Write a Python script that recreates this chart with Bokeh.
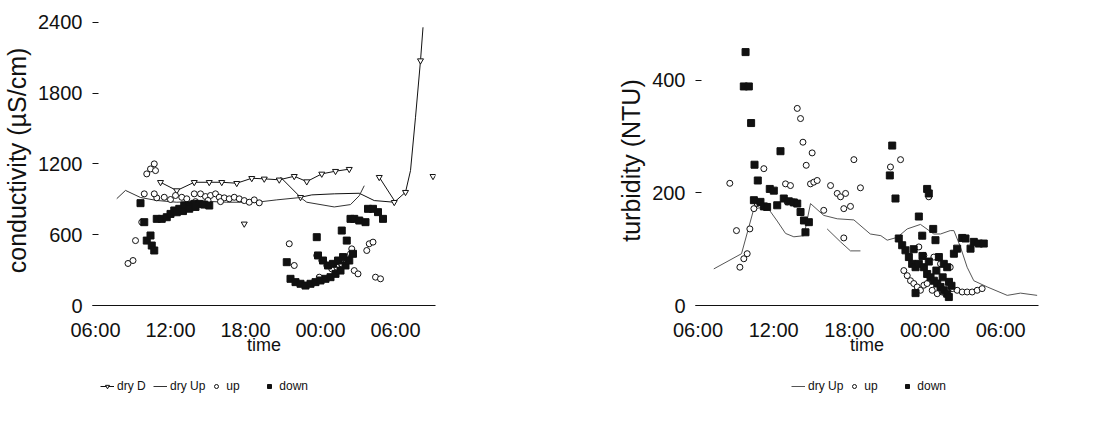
import math
from bokeh.plotting import figure
from bokeh.models import Range1d, FixedTicker, Legend, LegendItem
from bokeh.layouts import row, column
from bokeh.embed import file_html
from bokeh.resources import INLINE

NaN = float("nan")

# ---- time axis (hours after 06:00) ----
time_ticks = [0, 6, 12, 18, 24]
time_labels = ["06:00", "12:00", "18:00", "00:00", "06:00"]

# ---- conductivity panel ----
cond_ticks = [0, 600, 1200, 1800, 2400]

cond_dry_d_time = [5.2, 6.5, 7.9, 9.1, 10.1, 11.3, 12.5, 13.5, 14.7, 15.9, 16.9, 18.1, 19.2, 20.3, NaN,
                   14.8, 16.4, 17.3, 19.1, 21.1, 22.3, 23.9, 24.8, 25.2, 25.6, 26.0, 26.2, NaN,
                   22.7, 23.9]
cond_dry_d = [1044, 974, 1044, 1044, 1044, 1036, 1078, 1073, 1065, 1095, 1050, 1115, 1138, 1155, NaN,
              1087, 917, 937, 946, 951, 889, 875, 960, 1143, 1595, 2075, 2357, NaN,
              1087, 890]
# dry D points that carry a marker
cond_dry_d_mark_time = [5.2, 6.5, 7.9, 9.1, 10.1, 11.3, 12.5, 13.5, 14.7, 15.9, 16.9, 18.1, 19.2, 20.3,
                        16.4, 22.7, 23.9, 24.8, 26.0, 27.0, 11.9]
cond_dry_d_mark = [1044, 974, 1044, 1044, 1044, 1036, 1078, 1073, 1065, 1095, 1050, 1115, 1138, 1155,
                   917, 1087, 875, 960, 2075, 1095, 692]

cond_dry_up_time = [1.7, 2.4, 3.6, 4.9, 6.5, 8.4, 10.5, 12.9, 14.5, 16.4, 16.9, 19.1, 20.4, 21.1, 21.5]
cond_dry_up = [905, 975, 915, 890, 875, 885, 875, 875, 895, 915, 875, 835, 855, 930, 1015]

cond_up_time = [2.6, 3.0, 3.2, 3.7, 3.9, 4.1, 4.4, 4.7, 4.8,
                4.9, 5.5, 6.0, 6.4, 6.9, 7.3, 7.9, 8.4, 8.8, 9.2, 9.6, 9.9, 10.3, 10.7, 11.1, 11.5, 11.9, 12.3, 12.7, 13.1,
                4.7, 8.0, 9.0, 10.0,
                15.5, 15.9, 17.7, 18.1, 18.5, 18.9, 19.3, 19.7, 20.1, 20.4, 20.5, 20.7, 21.0, 21.7, 21.9, 22.2, 22.4, 22.8, 17.9]
cond_up = [356, 381, 550, 706, 946, 1115, 1157, 1200, 1143,
           912, 917, 898, 932, 917, 904, 946, 946, 923, 932, 946, 917, 912, 904, 917, 904, 889, 875, 895, 870,
           946, 880, 890, 880,
           523, 339, 424, 381, 339, 310, 325, 353, 395, 438, 480, 296, 268, 466, 523, 537, 240, 226, 240]

cond_down_time = [3.6, 3.9, 4.1, 4.4, 4.5, 4.7, 4.9, 5.3, 5.7, 6.0, 6.3, 6.7, 7.1, 7.5, 7.9, 8.3, 8.7, 9.1,
                  6.5, 7.0, 7.5, 8.0,
                  15.3, 15.6, 16.0, 16.4, 16.8, 17.2, 17.6, 18.0, 18.4, 18.8, 19.2, 19.6, 20.0, 20.3, 20.6,
                  17.7, 19.7, 20.1, 20.4, 20.7, 21.1, 21.6, 21.8, 22.2, 22.6, 23.0,
                  17.8, 18.2, 18.6, 19.0, 19.4, 19.8]
cond_down = [867, 706, 550, 593, 508, 466, 734, 734, 748, 776, 805, 819, 847, 847, 861, 861, 855, 847,
             790, 800, 820, 835,
             367, 226, 198, 184, 169, 184, 198, 212, 226, 240, 268, 296, 339, 381, 438,
             579, 635, 550, 734, 734, 720, 706, 819, 819, 791, 734,
             424, 381, 339, 353, 381, 410]

# ---- turbidity panel ----
turb_ticks = [0, 200, 400]

turb_dry_up_time = [1.25, 3.45, 4.43, 5.48, 6.28, 6.94, 7.60, 8.40, 8.92, 9.97, 11.04, 12.36, 13.66, 14.5, 15.0,
                    15.8, 16.59, 17.64, 18.70, 19.23, 20.0, 20.29, 20.81, 21.34, 21.87, 22.93, 24.52, 25.57, 26.89,
                    NaN, 10.24, 11.3, 12.09, 12.88]
turb_dry_up = [65, 92, 172, 175, 150, 128, 122, 124, 181, 160, 154, 152, 127, 124, 116,
               121, 136, 144, 127, 127, 133, 133, 104, 68, 44, 33, 18, 22, 18,
               NaN, 136, 113, 97, 97]

turb_up_time = [2.52, 3.05, 4.11, 3.32, 3.63, 3.90, 4.43, 4.69, 5.22, 6.94, 7.33, 7.07, 7.60, 7.87, 8.13, 8.32,
                9.05, 8.58, 8.92, 9.18, 9.45, 10.51, 11.04, 11.30, 11.70, 12.36, 12.88, 11.56, 12.09, 9.97, 11.56,
                15.26, 16.06,
                16.32, 16.59, 16.85, 17.11, 17.38, 17.64, 17.91, 18.17, 18.57, 18.97, 19.36, 19.63, 20.16, 20.55,
                20.95, 21.34, 21.74, 22.14, 22.53,
                17.78, 18.30, 17.51, 17.91, 18.70, 19.23, 20.0]
turb_up = [217, 133, 136, 68, 83, 92, 172, 181, 243, 216, 213, 184, 184, 350, 332, 290,
           271, 249, 216, 219, 222, 213, 199, 193, 199, 259, 209, 172, 176, 169, 120,
           246, 259,
           62, 53, 44, 39, 33, 27, 36, 39, 27, 21, 24, 21, 30, 27,
           24, 24, 24, 27, 30,
           124, 193, 104, 89, 86, 74, 68]

turb_down_time = [3.77, 3.63, 4.03, 4.21, 4.48, 4.74, 4.43, 4.95, 5.22, 5.48, 5.69, 6.01, 6.28, 6.54, 6.80,
                  7.20, 7.60, 7.87, 8.13, 8.40, 8.79, 8.52,
                  15.40, 15.21, 15.66, 17.51,
                  15.92, 16.19, 16.45, 16.72, 16.98, 17.25, 17.51, 17.91, 18.17, 18.44, 18.70, 18.97, 19.23,
                  19.49, 19.76, 19.89, 17.25,
                  18.17, 18.30, 18.65, 18.83, 17.78, 19.10, 19.49, 19.76, 20.29, 20.55, 20.95, 21.21, 21.61,
                  21.87, 22.27, 22.66,
                  17.1, 17.8, 18.3, 18.9, 19.4, 19.9, 20.1]
turb_down = [450, 389, 389, 324, 250, 222, 187, 184, 176, 175, 207, 204, 178, 274, 190,
             185, 183, 181, 166, 151, 148, 130,
             284, 231, 190, 158,
             119, 107, 98, 86, 74, 68, 74, 68, 56, 50, 44, 39, 33,
             27, 21, 15, 22,
             207, 199, 136, 116, 124, 86, 74, 68, 92, 101, 120, 119, 101,
             113, 110, 110,
             100, 88, 78, 62, 50, 42, 35]

FONT = "Liberation Sans"
INK = "#111111"

# legend key renderers sit outside the key strip's visible range
KEY_X = [-5, -4]
KEY_Y = [-5, -5]

# glyph styles shared by the plots and their legend keys
DRY_D_LINE = dict(line_color=INK, line_width=1)
DRY_D_MARK = dict(marker="inverted_triangle", size=6, line_color=INK, fill_color="white", line_width=1)
UP_MARK = dict(marker="circle", size=6, line_color=INK, fill_color="white", line_width=1)
DOWN_MARK = dict(marker="square", size=7, line_color=INK, fill_color=INK)


def make_fig(x_range, y_range, y_ticks, y_label, left, right):
    p = figure(frame_width=343, frame_height=290, x_range=x_range, y_range=y_range,
               output_backend="svg", toolbar_location=None,
               min_border_left=left, min_border_right=right, min_border_top=15, min_border_bottom=60)
    p.outline_line_color = None
    p.grid.visible = False
    p.background_fill_color = "white"
    p.border_fill_color = "white"

    xa = p.xaxis[0]
    xa.ticker = FixedTicker(ticks=time_ticks)
    xa.major_label_overrides = {t: l for t, l in zip(time_ticks, time_labels)}
    xa.major_tick_in = 0
    xa.major_tick_out = 0
    xa.minor_tick_line_color = None
    xa.axis_line_color = INK
    xa.axis_line_width = 1.2
    xa.axis_label = "time"
    xa.major_label_standoff = 13
    xa.axis_label_standoff = -9
    xa.major_label_text_font = FONT
    xa.major_label_text_font_size = "20px"
    xa.major_label_text_color = INK
    xa.axis_label_text_font = FONT
    xa.axis_label_text_font_size = "18px"
    xa.axis_label_text_font_style = "normal"
    xa.axis_label_text_color = INK

    ya = p.yaxis[0]
    ya.ticker = FixedTicker(ticks=y_ticks)
    ya.major_tick_in = 6
    ya.major_tick_out = 0
    ya.major_tick_line_color = INK
    ya.minor_tick_line_color = None
    ya.axis_line_color = None
    ya.axis_label = y_label
    ya.major_label_standoff = 10
    ya.axis_label_standoff = 4
    ya.major_label_text_font = FONT
    ya.major_label_text_font_size = "20px"
    ya.major_label_text_color = INK
    ya.axis_label_text_font = FONT
    ya.axis_label_text_font_size = "25px"
    ya.axis_label_text_font_style = "normal"
    ya.axis_label_text_color = INK
    return p


def make_key_fig(width):
    k = figure(width=width, height=40, x_range=Range1d(0, 1), y_range=Range1d(0, 1),
               output_backend="svg", toolbar_location=None,
               x_axis_location=None, y_axis_location=None, min_border=0)
    k.outline_line_color = None
    k.grid.visible = False
    k.background_fill_color = "white"
    k.border_fill_color = "white"
    return k


def style_legend(lg, x_off):
    lg.orientation = "horizontal"
    lg.location = (x_off, 12)
    lg.margin = 0
    lg.label_text_font = FONT
    lg.label_text_font_size = "12px"
    lg.label_text_color = INK
    lg.glyph_width = 14
    lg.glyph_height = 10
    lg.label_standoff = 3
    lg.spacing = 4
    lg.padding = 0
    lg.label_width = 32
    lg.border_line_color = None
    lg.background_fill_alpha = 0


# ---- left: conductivity ----
p1 = make_fig(Range1d(-0.24, 27.2), Range1d(0, 2457), cond_ticks, "conductivity (µS/cm)", 92, 117)
p1.line(cond_dry_d_time, cond_dry_d, **DRY_D_LINE)
p1.scatter(cond_dry_d_mark_time, cond_dry_d_mark, **DRY_D_MARK)
p1.line(cond_dry_up_time, cond_dry_up, line_color="#333333", line_width=1)
p1.scatter(cond_up_time, cond_up, **UP_MARK)
p1.scatter(cond_down_time, cond_down, **DOWN_MARK)

k1 = make_key_fig(552)
kd_l = k1.line(KEY_X, KEY_Y, **DRY_D_LINE)
kd_m = k1.scatter(KEY_X, KEY_Y, **DRY_D_MARK)
ku_l = k1.line(KEY_X, KEY_Y, line_color="#333333", line_width=1)
kup = k1.scatter(KEY_X, KEY_Y, **UP_MARK)
kdn = k1.scatter(KEY_X, KEY_Y, **DOWN_MARK)
lg1 = Legend(items=[LegendItem(label="dry D", renderers=[kd_l, kd_m]),
                    LegendItem(label="dry Up", renderers=[ku_l]),
                    LegendItem(label="up", renderers=[kup]),
                    LegendItem(label="down", renderers=[kdn])])
style_legend(lg1, 100)
k1.add_layout(lg1, "center")

# ---- right: turbidity ----
p2 = make_fig(Range1d(-0.2, 27.0), Range1d(0, 515), turb_ticks, "turbidity (NTU)", 143, 40)
p2.line(turb_dry_up_time, turb_dry_up, line_color="#555555", line_width=1)
p2.scatter(turb_up_time, turb_up, **UP_MARK)
p2.scatter(turb_down_time, turb_down, **DOWN_MARK)

k2 = make_key_fig(526)
k2u_l = k2.line(KEY_X, KEY_Y, line_color="#555555", line_width=1)
k2up = k2.scatter(KEY_X, KEY_Y, **UP_MARK)
k2dn = k2.scatter(KEY_X, KEY_Y, **DOWN_MARK)
lg2 = Legend(items=[LegendItem(label="dry Up", renderers=[k2u_l]),
                    LegendItem(label="up", renderers=[k2up]),
                    LegendItem(label="down", renderers=[k2dn])])
style_legend(lg2, 239)
k2.add_layout(lg2, "center")

layout = column(row(p1, p2), row(k1, k2))
open("out.html", "w").write(file_html(layout, INLINE))
